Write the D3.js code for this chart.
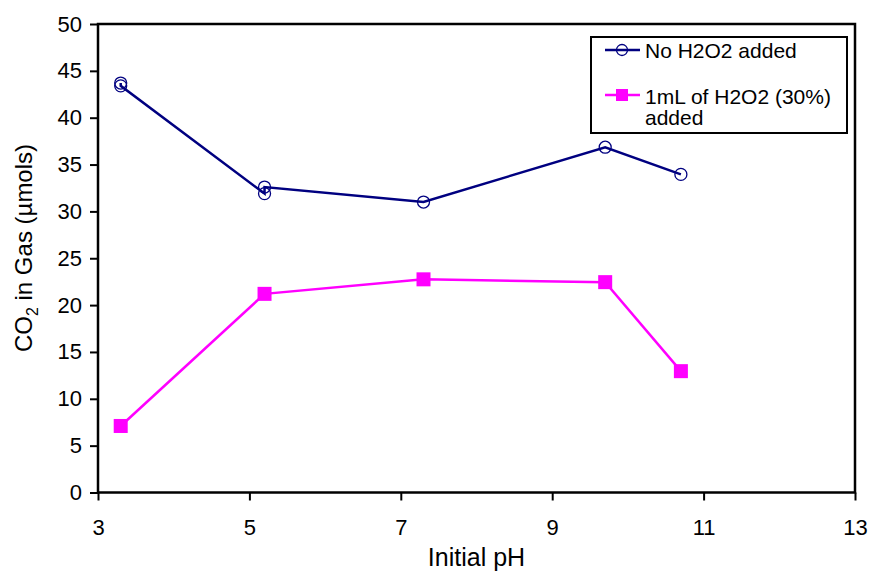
<!DOCTYPE html>
<html><head><meta charset="utf-8">
<script src="https://cdn.jsdelivr.net/npm/d3@7"></script>
<style>body{margin:0;background:#fff}svg{display:block;font-family:"Liberation Sans",Arial,sans-serif}</style>
</head><body><svg id="c" width="870" height="572"></svg>
<script>
// Data
const noH2O2 = [[3.3,43.7],[3.3,43.4],[5.2,31.9],[5.2,32.6],[7.3,31.0],[9.7,36.85],[10.7,33.95]];
const withH2O2 = [[3.3,7.1],[5.2,21.2],[7.3,22.75],[9.7,22.45],[10.7,12.95]];
const xTicks = [3,5,7,9,11,13];
const yTicks = [0,5,10,15,20,25,30,35,40,45,50];
const seriesNames = ["No H2O2 added","1mL of H2O2 (30%)","added"];

const svg = d3.select("#c");
const x = d3.scaleLinear().domain([3,13]).range([98,855]);
const y = d3.scaleLinear().domain([0,50]).range([492.5,24]);

// plot frame
svg.append("rect").attr("x",x(3)).attr("y",y(50)).attr("width",x(13)-x(3)).attr("height",y(0)-y(50))
  .attr("fill","none").attr("stroke","#000").attr("stroke-width",2.5);

// axes
const yAxis = svg.append("g").attr("transform",`translate(${x(3)},0)`)
  .call(d3.axisLeft(y).tickValues(yTicks).tickSize(8).tickPadding(8).tickFormat(d3.format("d")));
const xAxis = svg.append("g").attr("transform",`translate(0,${y(0)})`)
  .call(d3.axisBottom(x).tickValues(xTicks).tickSize(8).tickPadding(19).tickFormat(d3.format("d")));
[yAxis,xAxis].forEach(g=>{
  g.select(".domain").remove();
  g.selectAll(".tick line").attr("stroke","#000").attr("stroke-width",2);
  g.selectAll(".tick text").attr("fill","#000").style("font-size","22px").style("font-family","'Liberation Sans',Arial,sans-serif");
});

// lines
const line = d3.line().x(d=>x(d[0])).y(d=>y(d[1]));
svg.append("path").datum(noH2O2).attr("d",line).attr("fill","none").attr("stroke","#000080").attr("stroke-width",2.5);
svg.append("path").datum(withH2O2).attr("d",line).attr("fill","none").attr("stroke","#FF00FF").attr("stroke-width",2.5);

svg.selectAll("circle.m").data(noH2O2).enter().append("circle").attr("class","m")
  .attr("cx",d=>x(d[0])).attr("cy",d=>y(d[1])).attr("r",6)
  .attr("fill","none").attr("stroke","#000080").attr("stroke-width",1.3);
const sq = 14;
svg.selectAll("rect.m").data(withH2O2).enter().append("rect").attr("class","m")
  .attr("x",d=>x(d[0])-sq/2).attr("y",d=>y(d[1])-sq/2).attr("width",sq).attr("height",sq)
  .attr("fill","#FF00FF");

// axis titles
svg.append("text").attr("x",(x(3)+x(13))/2).attr("y",566).attr("text-anchor","middle")
  .style("font-size","25px").text("Initial pH");
const yt = svg.append("text").attr("transform","translate(32,248) rotate(-90)").attr("text-anchor","middle")
  .style("font-size","24px");
yt.append("tspan").text("CO");
yt.append("tspan").text("2").style("font-size","16px").attr("dy",6);
yt.append("tspan").text(" in Gas (µmols)").attr("dy",-6);

// legend
const lg = svg.append("g");
lg.append("rect").attr("x",591).attr("y",37).attr("width",256).attr("height",96)
  .attr("fill","#fff").attr("stroke","#000").attr("stroke-width",2);
lg.append("line").attr("x1",605).attr("x2",640).attr("y1",50).attr("y2",50).attr("stroke","#000080").attr("stroke-width",2.5);
lg.append("circle").attr("cx",622).attr("cy",50).attr("r",5.5).attr("fill","none").attr("stroke","#000080").attr("stroke-width",1.3);
lg.append("line").attr("x1",605).attr("x2",640).attr("y1",95).attr("y2",95).attr("stroke","#FF00FF").attr("stroke-width",2.5);
lg.append("rect").attr("x",616).attr("y",89).attr("width",12).attr("height",12).attr("fill","#FF00FF");
lg.append("text").attr("x",645).attr("y",58).style("font-size","21px").text(seriesNames[0]);
lg.append("text").attr("x",645).attr("y",104).style("font-size","21px").text(seriesNames[1]);
lg.append("text").attr("x",645).attr("y",125).style("font-size","21px").text(seriesNames[2]);
</script></body></html>
